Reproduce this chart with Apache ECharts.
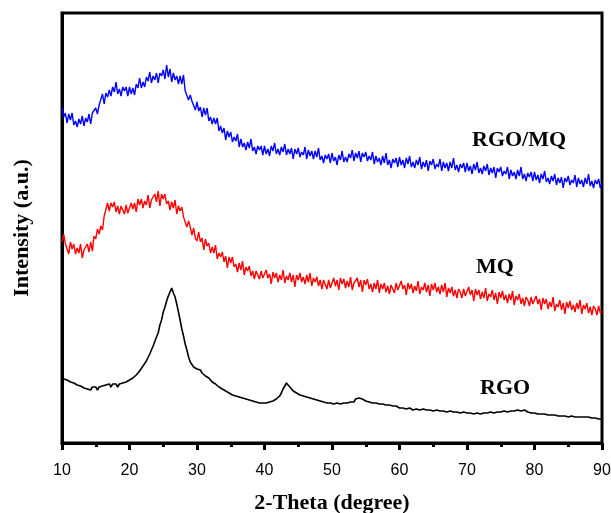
<!DOCTYPE html>
<html>
<head>
<meta charset="utf-8">
<script src="https://cdn.jsdelivr.net/npm/echarts@6/dist/echarts.min.js"></script>
<style>html,body{margin:0;padding:0;background:#fff}#c{width:611px;height:513px}</style>
</head>
<body>
<div id="c"></div>
<script>
// 2-Theta sampling: starts at 10 deg, 0.25 deg per sample
const START_ANGLE = 10;
const STEP = 0.25;
const xTicks = [10, 20, 30, 40, 50, 60, 70, 80, 90];
const seriesNames = ['RGO/MQ', 'MQ', 'RGO'];

// Intensity (a.u.), one value every 0.25 deg from 10 to 90
const rgoMq = [
335,326,330,320, 329,323,330,318, 322,316,324,319, 327,317,325,321, 329,319,330,328,
335,329,338,338, 349,339,350,346, 353,347,356,351, 361,349,354,347, 356,352,356,347,
356,349,355,348, 359,355,365,355, 361,356,366,362, 371,360,367,363, 370,360,370,367,
373,364,378,366, 374,361,370,363, 367,359,367,359, 368,352,353,343, 348,342,344,333,
341,332,336,326, 335,328,335,322, 326,319,325,319, 325,312,317,310, 315,303,312,306,
311,301,306,302, 309,296,304,296, 300,293,301,295, 304,292,296,289, 297,293,297,288,
297,289,294,287, 297,292,300,289, 294,288,296,291, 299,288,294,289, 295,284,294,289,
295,286,291,288, 296,284,293,287, 292,284,292,286, 295,283,287,280, 288,284,289,280,
290,282,286,278, 288,283,292,281, 286,281,289,285, 293,282,290,285, 292,281,290,286,
291,282,287,283, 291,279,287,281, 285,278,287,280, 290,278,283,275, 284,280,285,276,
286,278,283,275, 285,279,287,276, 281,275,283,278, 286,274,281,276, 283,272,282,278,
284,274,279,276, 284,272,281,275, 280,272,281,275, 285,273,278,271, 279,275,280,271,
280,272,277,269, 279,273,281,270, 275,269,277,272, 279,268,275,270, 276,265,275,271,
276,267,272,269, 276,264,273,267, 271,264,273,267, 276,264,269,262, 270,266,271,262,
271,263,268,260, 269,264,272,261, 265,259,267,262, 269,258,265,260, 266,255,265,261,
267,258,263,260, 268,256,265,259, 263,256,265,259, 269,257,262,255, 263,259,264,255,
260
];
const mq = [
201,209,199,201, 189,201,194,199, 189,195,190,199, 185,193,191,199, 191,201,192,207,
204,214,209,217, 213,227,226,240, 232,240,236,241, 231,237,229,237, 235,229,238,230,
229,240,234,240, 231,244,238,244, 235,242,238,248, 235,243,241,249, 241,252,237,249,
244,249,239,242, 233,241,235,243, 229,237,232,236, 226,228,216,222, 216,208,215,205,
202,211,201,205, 193,204,197,200, 190,196,190,198, 184,190,186,191, 181,187,175,186,
180,186,176,179, 171,180,173,182, 168,176,172,177, 167,172,164,172, 170,164,172,165,
163,173,165,169, 159,171,165,170, 161,168,163,173, 160,167,163,170, 161,168,156,168,
163,170,161,166, 159,168,161,170, 157,165,161,166, 157,163,154,163, 161,154,163,155,
154,165,157,163, 153,165,159,164, 155,162,156,166, 153,160,158,165, 156,163,151,163,
158,164,154,159, 151,160,154,163, 150,159,154,160, 151,157,149,158, 156,150,160,153,
152,162,154,158, 148,160,154,159, 150,157,152,162, 149,156,153,160, 151,158,147,159,
153,160,151,156, 149,158,151,160, 146,155,150,156, 147,153,145,154, 151,145,154,147,
146,156,148,153, 142,154,148,153, 144,151,145,155, 142,149,146,153, 143,150,139,151,
145,152,143,148, 140,149,143,152, 138,147,143,149, 139,145,137,146, 143,137,146,139,
137,147,139,144, 133,145,139,144, 134,141,136,146, 132,139,136,143, 133,140,129,141,
135,142,133,138, 131,140,134,143, 129,138,134,140, 130,136,128,137, 134,128,137,130,
132
];
const rgo = [
67,64,66,63, 64,61,63,60, 61,58,60,57, 58,55,57,54, 56,53,56,54,
56,53,56,54, 57,55,58,56, 59,56,59,57, 59,56,59,57, 60,58,61,59,
63,61,65,64, 68,67,72,71, 77,76,82,82, 89,90,97,99, 106,110,118,123,
131,136,142,147, 151,155,150,146, 139,131,123,114, 107,99,93,86, 81,79,76,75,
74,72,73,70, 70,67,68,65, 64,61,62,59, 59,56,57,54, 54,52,52,50,
50,48,49,47, 48,46,47,45, 46,44,45,43, 43,42,43,41, 42,40,42,40,
42,40,42,41, 43,42,44,44, 46,47,50,54, 57,60,59,56, 54,52,52,50,
50,48,49,47, 48,46,47,45, 46,44,45,43, 44,42,43,41, 42,40,42,40,
41,39,41,40, 41,39,41,40, 42,40,42,41, 42,41,44,44, 45,43,44,42,
42,40,41,39, 40,38,40,38, 39,37,39,37, 38,36,38,36, 37,35,37,35,
35,34,35,33, 34,33,35,33, 33,32,34,32, 33,32,34,32, 33,31,33,31,
32,31,33,31, 32,30,32,30, 31,30,32,30, 31,29,31,29, 30,29,31,29,
30,28,30,28, 29,28,30,28, 29,28,30,29, 30,29,31,30, 30,29,31,30,
31,30,32,31, 31,30,32,31, 32,31,33,32, 32,31,33,31, 31,29,30,28,
30,28,29,27, 29,27,29,27, 28,26,28,26, 28,26,27,25, 27,25,27,25,
26,25,27,25, 26,24,26,24, 26,24,26,24, 26,24,25,23, 25,23,24,22,
24
];

function pairs(arr) { return arr.map((v, i) => [START_ANGLE + i * STEP, v]); }

const chart = echarts.init(document.getElementById('c'), null, {renderer: 'canvas'});
const serif = '"Liberation Serif", "Times New Roman", serif';
const colors = ['#0000ff', '#ff0000', '#000000'];
const widths = [1.4, 1.4, 1.6];
const allData = [rgoMq, mq, rgo];

chart.setOption({
  backgroundColor: '#fff',
  animation: false,
  grid: {left: 62, right: 9, top: 13, bottom: 70, outerBoundsMode: 'none', containLabel: false,
         show: true, borderColor: '#000', borderWidth: 3, backgroundColor: 'transparent'},
  xAxis: {
    type: 'value', min: xTicks[0], max: xTicks[xTicks.length - 1], interval: 10,
    name: '2-Theta (degree)', nameLocation: 'middle', nameGap: 49,
    nameTextStyle: {fontFamily: serif, fontWeight: 'bold', fontSize: 22, color: '#000'},
    axisLine: {show: true, lineStyle: {color: '#000', width: 3}},
    axisTick: {show: true, inside: false, length: 7, lineStyle: {color: '#000', width: 3}},
    minorTick: {show: true, splitNumber: 2, length: 4, lineStyle: {color: '#000', width: 3}},
    axisLabel: {color: '#000', fontSize: 16, fontFamily: '"Liberation Sans", Arial, sans-serif', margin: 20},
    splitLine: {show: false}
  },
  yAxis: {
    type: 'value', min: 0, max: 430,
    name: 'Intensity (a.u.)', nameLocation: 'middle', nameGap: 29,
    nameTextStyle: {fontFamily: serif, fontWeight: 'bold', fontSize: 22, color: '#000'},
    axisLine: {show: true, lineStyle: {color: '#000', width: 3}},
    axisTick: {show: false}, axisLabel: {show: false}, splitLine: {show: false}
  },
  series: seriesNames.map((n, k) => ({
    name: n, type: 'line', data: pairs(allData[k]), showSymbol: false, symbol: 'none',
    lineStyle: {color: colors[k], width: widths[k]}, itemStyle: {color: colors[k]}, z: 3 + k
  })),
  graphic: [
    {type: 'text', left: 472, top: 129, style: {text: 'RGO/MQ', font: 'bold 22px ' + serif, fill: '#000'}},
    {type: 'text', left: 476, top: 256, style: {text: 'MQ', font: 'bold 22px ' + serif, fill: '#000'}},
    {type: 'text', left: 480, top: 377, style: {text: 'RGO', font: 'bold 22px ' + serif, fill: '#000'}}
  ]
});
</script>
</body>
</html>
